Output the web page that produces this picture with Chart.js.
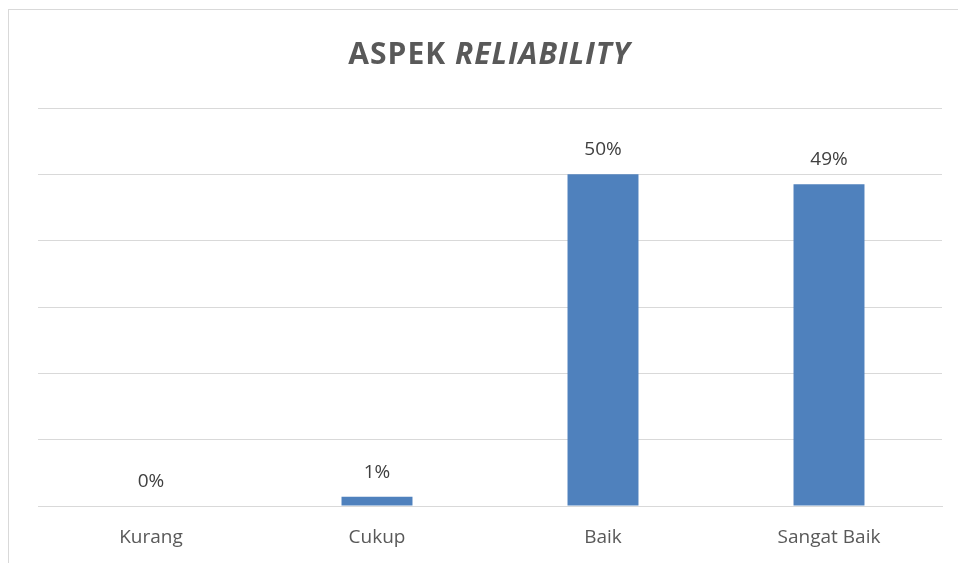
<!DOCTYPE html>
<html><head><meta charset="utf-8">
<script src="https://cdn.jsdelivr.net/npm/chart.js@4.4.1/dist/chart.umd.min.js"></script>
<style>
html,body{margin:0;padding:0;background:#fff;overflow:hidden;}
#frame{position:absolute;left:8px;top:9px;width:1000px;height:600px;border:1px solid #d9d9d9;box-sizing:border-box;}
#wrap{position:absolute;left:0;top:0;width:958px;height:563px;}
</style></head>
<body>
<div id="frame"></div>
<div id="wrap"><canvas id="c" width="958" height="563"></canvas></div>
<script>
const categories = ["Kurang", "Cukup", "Baik", "Sangat Baik"];
const values = [0, 1.4, 50, 48.5];
const titlePlain = "ASPEK ";
const titleItalic = "RELIABILITY";

const FONT = "'Open Sans', sans-serif";
const TEXT = "#595959";

const labelPlugin = {
  id: 'barLabels',
  afterDatasetsDraw(chart) {
    const ctx = chart.ctx;
    const meta = chart.getDatasetMeta(0);
    ctx.save();
    ctx.font = "19px " + FONT;
    ctx.fillStyle = "#404040";
    ctx.textAlign = "center";
    ctx.textBaseline = "middle";
    meta.data.forEach((bar, i) => {
      ctx.fillText(Math.round(values[i]) + "%", bar.x, bar.y - 24.5);
    });
    ctx.restore();
  }
};

const titlePlugin = {
  id: 'mixedTitle',
  afterDraw(chart) {
    const ctx = chart.ctx;
    ctx.save();
    ctx.fillStyle = TEXT;
    ctx.textBaseline = "alphabetic";
    ctx.letterSpacing = "1px";
    const f1 = "bold 30px " + FONT;
    const f2 = "italic bold 30px " + FONT;
    ctx.font = f1; const w1 = ctx.measureText(titlePlain).width;
    ctx.font = f2; const w2 = ctx.measureText(titleItalic).width;
    const x0 = 489.5 - (w1 + w2) / 2;
    ctx.font = f1; ctx.fillText(titlePlain, x0, 64);
    ctx.font = f2; ctx.fillText(titleItalic, x0 + w1, 64);
    ctx.restore();
  }
};

new Chart(document.getElementById('c'), {
  type: 'bar',
  data: {
    labels: categories,
    datasets: [{
      data: values,
      backgroundColor: '#4f81bd',
      borderWidth: 0,
      categoryPercentage: 1,
      barPercentage: 0.314
    }]
  },
  options: {
    responsive: false,
    animation: false,
    events: [],
    layout: { padding: { left: 38, right: 16, top: 108, bottom: 0 } },
    plugins: { legend: { display: false }, tooltip: { enabled: false }, title: { display: false } },
    scales: {
      x: {
        grid: { display: false, drawTicks: false },
        border: { display: true, color: '#d9d9d9', width: 1 },
        ticks: { color: TEXT, font: { family: FONT, size: 19 }, padding: 20 },
        afterFit(s) { s.height = 57; }
      },
      y: {
        min: 0, max: 60,
        ticks: { display: false, stepSize: 10 },
        grid: { color: '#d9d9d9', lineWidth: 1, drawTicks: false },
        border: { display: false },
        afterFit(s) { s.width = 0; }
      }
    }
  },
  plugins: [labelPlugin, titlePlugin]
});
</script>
</body></html>
